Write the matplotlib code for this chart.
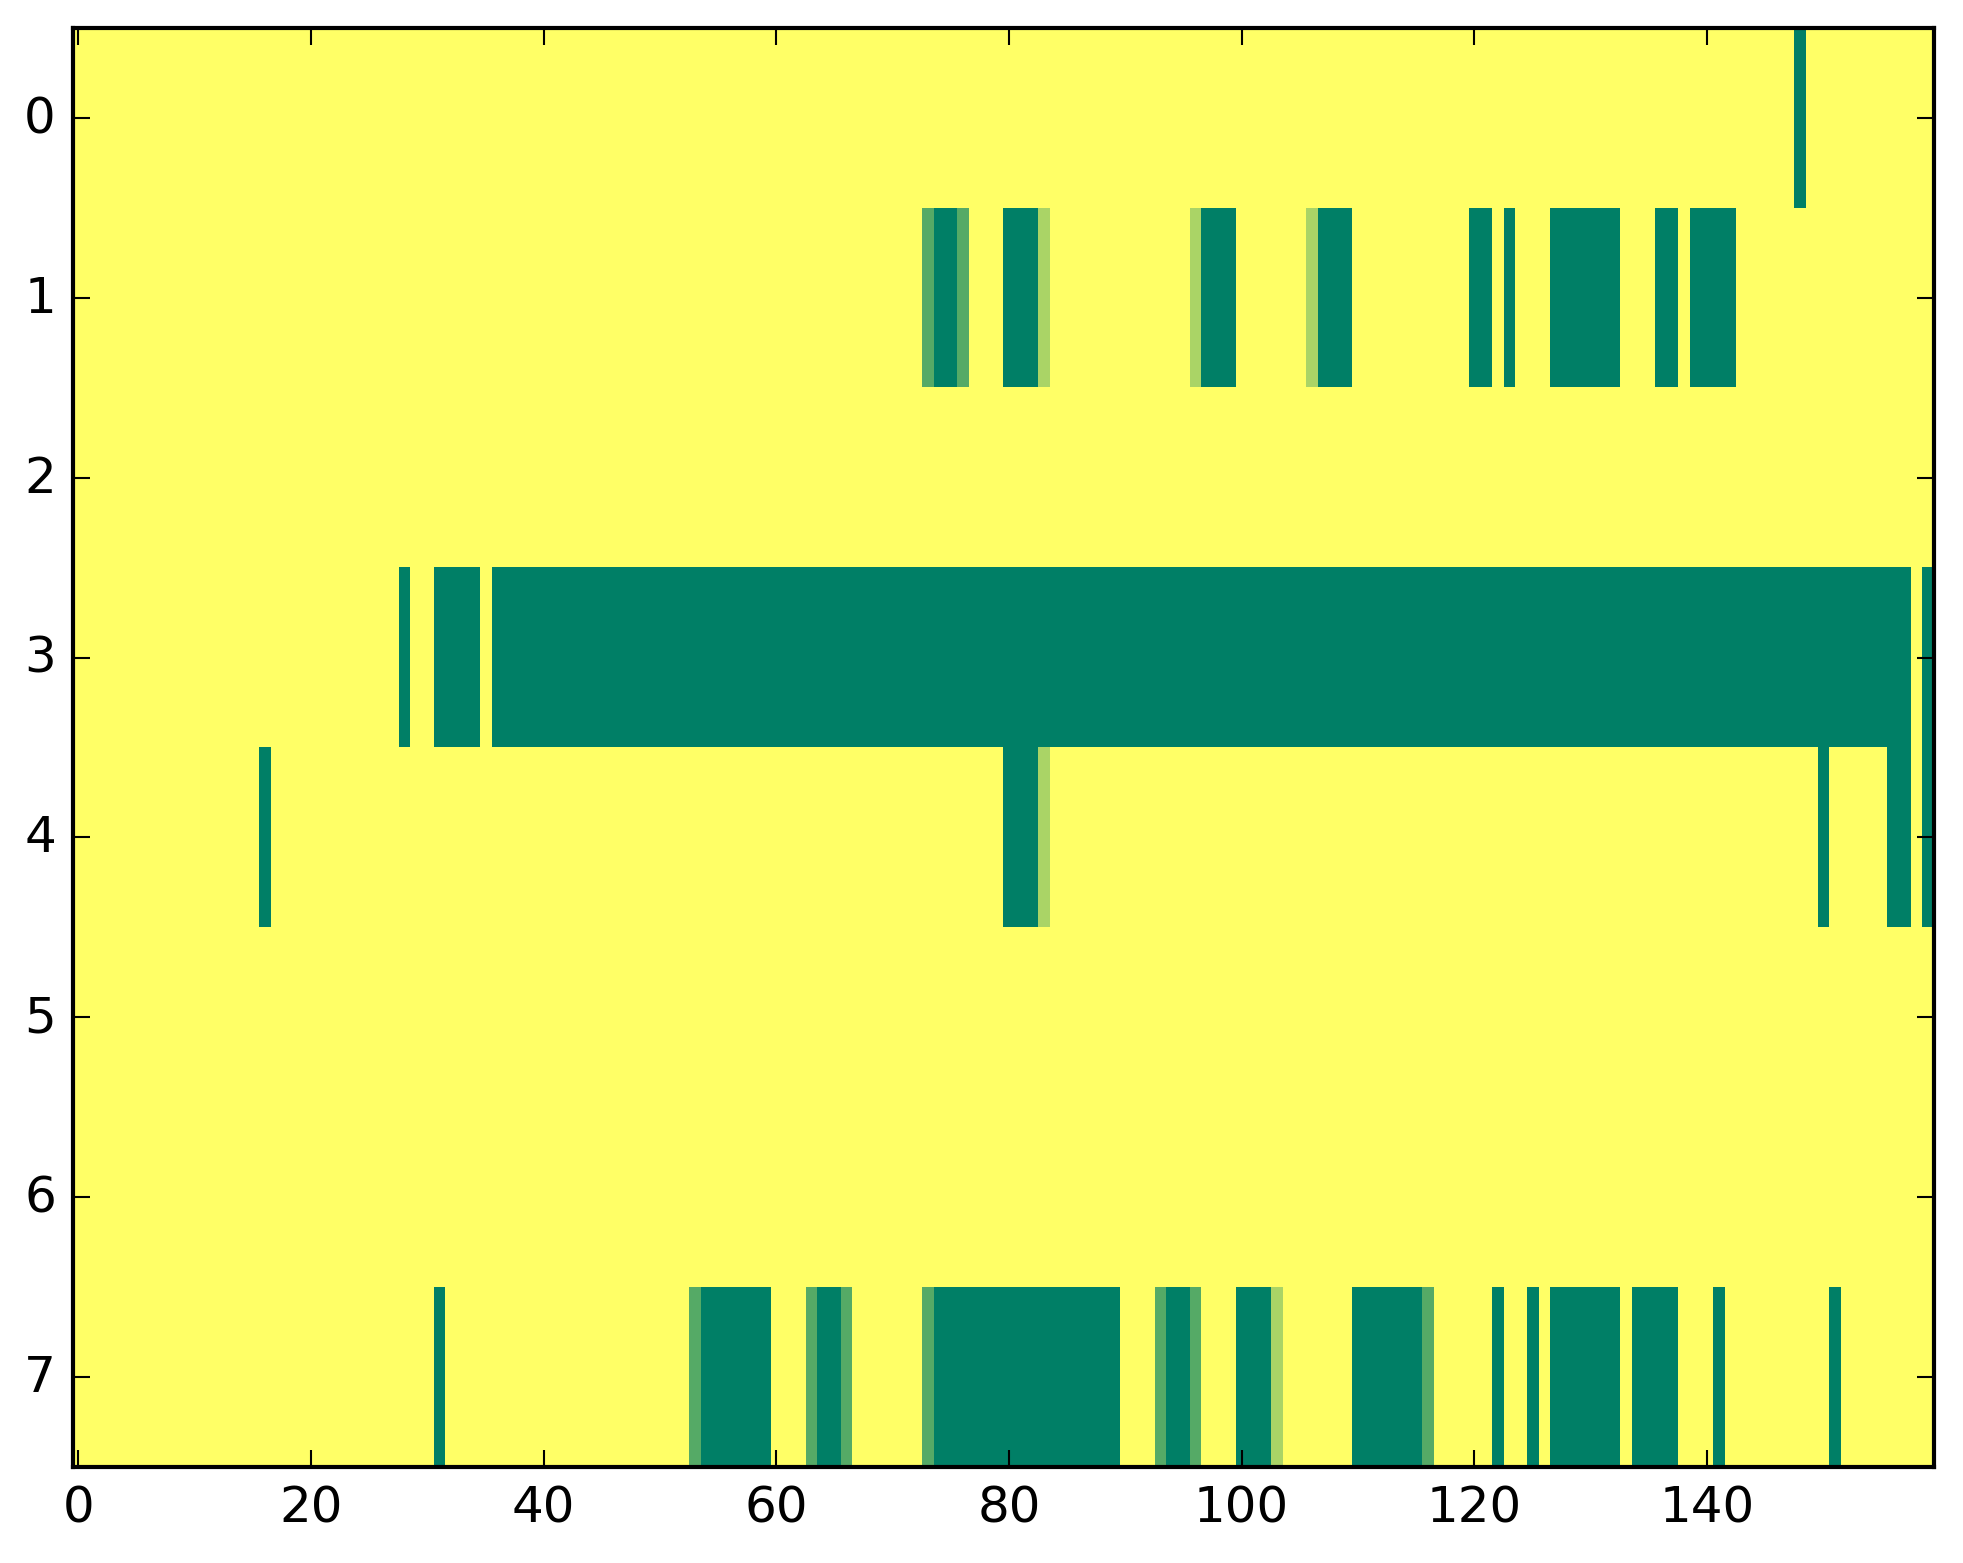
import numpy as np
import matplotlib
matplotlib.use('Agg')
import matplotlib.pyplot as plt

plt.style.use('classic')

# grid size
n_rows = 8
n_cols = 160

# levels: 0 = dark green, 1 = medium, 2 = light, 3 = background (yellow)
# runs per row: (first column, last column, level)
row0 = [(148, 148, 0)]
row1 = [(73, 73, 1), (74, 75, 0), (76, 76, 1), (80, 82, 0), (83, 83, 2),
        (96, 96, 2), (97, 99, 0), (106, 106, 2), (107, 109, 0),
        (120, 121, 0), (123, 123, 0), (127, 132, 0), (136, 137, 0),
        (139, 142, 0)]
row2 = []
row3 = [(28, 28, 0), (31, 34, 0), (36, 157, 0), (159, 159, 0)]
row4 = [(16, 16, 0), (80, 82, 0), (83, 83, 2), (150, 150, 0),
        (156, 157, 0), (159, 159, 0)]
row5 = []
row6 = []
row7 = [(31, 31, 0), (53, 53, 1), (54, 59, 0), (63, 63, 1), (64, 65, 0),
        (66, 66, 1), (73, 73, 1), (74, 89, 0), (93, 93, 1), (94, 95, 0),
        (96, 96, 1), (100, 102, 0), (103, 103, 2), (110, 115, 0),
        (116, 116, 1), (122, 122, 0), (125, 125, 0), (127, 132, 0),
        (134, 137, 0), (141, 141, 0), (151, 151, 0)]

rows = [row0, row1, row2, row3, row4, row5, row6, row7]

# build the image from the runs
grid = np.full((n_rows, n_cols), 3.0)
for i, runs in enumerate(rows):
    for start, end, level in runs:
        grid[i, start:end + 1] = level

fig = plt.figure(figsize=(1963 / 300, 1564 / 300), dpi=300)
ax = fig.add_axes([0.037, 0.0614, 0.948, 0.920])

ax.imshow(grid, cmap='summer', vmin=0, vmax=3, aspect='auto',
          interpolation='nearest')
ax.set_yticks(range(n_rows))
ax.set_xticks(range(0, 160, 20))
ax.set_xlim(-0.5, n_cols - 0.5)
ax.set_ylim(n_rows - 0.5, -0.5)

plt.savefig('out.png', dpi=300)
